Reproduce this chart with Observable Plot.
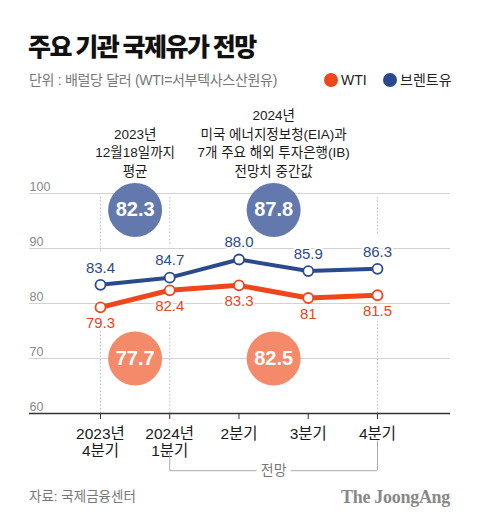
<!DOCTYPE html>
<html>
<head>
<meta charset="utf-8">
<script src="https://cdn.jsdelivr.net/npm/d3@7"></script>
<script src="https://cdn.jsdelivr.net/npm/@observablehq/plot@0.6"></script>
<style>
  html, body { margin: 0; padding: 0; background: #fff; }
  #wrap { position: relative; width: 480px; height: 525px; overflow: hidden; font-family: "Liberation Sans", "Noto Sans CJK KR", sans-serif; }
  .abs { position: absolute; white-space: nowrap; }
  #title { left: 28px; top: 31px; font-size: 25px; line-height: 28px; font-weight: 900; color: #111; letter-spacing: -1.5px; font-family: "Noto Sans CJK KR", sans-serif; }
  #subtitle { left: 29px; top: 72px; font-size: 14px; line-height: 16px; color: #777; letter-spacing: -0.3px; }
  .leg { top: 72px; font-size: 14px; line-height: 16px; color: #222; display: flex; align-items: center; }
  .leg span.dot { display: inline-block; width: 14px; height: 14px; border-radius: 50%; margin-right: 3px; }
  #chart { left: 0; top: 100px; }
  #source { left: 29px; top: 488px; font-size: 13.5px; line-height: 18px; color: #777; }
  #brand { right: 30px; top: 486px; font-size: 18px; line-height: 22px; color: #888; font-weight: 700; font-family: "Liberation Serif", "DejaVu Serif", serif; letter-spacing: -0.3px; }
</style>
</head>
<body>
<div id="wrap">
  <div id="title" class="abs">주요 기관 국제유가 전망</div>
  <div id="subtitle" class="abs">단위 : 배럴당 달러 (WTI=서부텍사스산원유)</div>
  <div id="legend"></div>
  <div id="chart" class="abs"></div>
  <div id="source" class="abs">자료: 국제금융센터</div>
  <div id="brand" class="abs">The JoongAng</div>
</div>
<script>
// ---- data ----
const xLabels = ["2023년\n4분기", "2024년\n1분기", "2분기", "3분기", "4분기"];
const wti = [79.3, 82.4, 83.3, 81, 81.5];
const brent = [83.4, 84.7, 88.0, 85.9, 86.3];
const wtiLabels = ["79.3", "82.4", "83.3", "81", "81.5"];
const brentLabels = ["83.4", "84.7", "88.0", "85.9", "86.3"];
const periodStart = [0, 1];
const periodEnd = [1, 4];
const periodNotes = ["2023년\n12월18일까지\n평균", "2024년\n미국 에너지정보청(EIA)과\n7개 주요 해외 투자은행(IB)\n전망치 중간값"];
const avgWti = [77.7, 82.5];
const avgBrent = [82.3, 87.8];
const yTicks = [60, 70, 80, 90, 100];
const seriesNames = ["WTI", "브렌트유"];
const forecastLabel = "전망";

// ---- styles ----
const RED = "#f0461b", BLUE = "#2b4a8e";
const RED_BUBBLE = "#f58a6a", BLUE_BUBBLE = "#6379ad";
const colors = [RED, BLUE];

// legend
const legend = document.getElementById("legend");
const legLefts = [324, 383];
seriesNames.forEach((n, i) => {
  const d = document.createElement("div");
  d.className = "abs leg";
  d.style.left = legLefts[i] + "px";
  d.innerHTML = `<span class="dot" style="background:${colors[i]}"></span>${n}`;
  legend.appendChild(d);
});

const idx = xLabels.map((_, i) => i);
const periods = periodStart.map((s, i) => ({s, e: periodEnd[i], mid: (s + periodEnd[i]) / 2, note: periodNotes[i], w: avgWti[i], b: avgBrent[i]}));
const guideIdx = Array.from(new Set([...periodStart, ...periodEnd]));
const fcStart = periodStart[1], fcEnd = periodEnd[1];

const chart = Plot.plot({
  width: 480,
  height: 385,
  marginTop: 93,
  marginBottom: 72,
  marginLeft: 29,
  marginRight: 30,
  x: {type: "linear", domain: [-1.025, 5.054], axis: null, label: null},
  y: {domain: [60, 100], axis: null, label: null},
  style: {fontFamily: "'Liberation Sans', 'Noto Sans CJK KR', sans-serif", background: "white", overflow: "visible"},
  marks: [
    // gridlines
    Plot.ruleY(yTicks.filter(t => t > 60), {y: d => d, stroke: "#d2d2d2", strokeWidth: 1}),
    Plot.text(yTicks, {y: d => d, text: d => String(d), frameAnchor: "left", textAnchor: "start", dy: -7, fill: "#888", fontSize: 12.5}),
    // dotted guides
    Plot.ruleX(guideIdx, {x: d => d, y1: 99.3, y2: d => brent[d] + 6, stroke: "#bdbdbd", strokeDasharray: "1.5,2"}),
    Plot.ruleX(guideIdx, {x: d => d, y1: 60, y2: 76.7, stroke: "#bdbdbd", strokeDasharray: "1.5,2"}),
    // period notes
    Plot.text(periods, {x: "mid", text: "note", frameAnchor: "top", lineAnchor: "bottom", dy: -18, fontSize: 13.5, lineHeight: 1.37, fill: "#1a1a1a"}),
    // average bubbles
    Plot.dot(periods, {x: "mid", y: () => 97, r: 27, fill: BLUE_BUBBLE}),
    Plot.text(periods, {x: "mid", y: () => 97, text: d => d.b.toFixed(1), fill: "white", fontSize: 20, fontWeight: "bold"}),
    Plot.dot(periods, {x: "mid", y: () => 70, r: 27, fill: RED_BUBBLE}),
    Plot.text(periods, {x: "mid", y: () => 70, text: d => d.w.toFixed(1), fill: "white", fontSize: 20, fontWeight: "bold"}),
    // lines
    Plot.line(idx, {x: d => d, y: d => brent[d], stroke: BLUE, strokeWidth: 4}),
    Plot.line(idx, {x: d => d, y: d => wti[d], stroke: RED, strokeWidth: 5}),
    Plot.dot(idx, {x: d => d, y: d => brent[d], r: 5, fill: "white", stroke: BLUE, strokeWidth: 1.8}),
    Plot.dot(idx, {x: d => d, y: d => wti[d], r: 5, fill: "white", stroke: RED, strokeWidth: 1.8}),
    // value labels
    Plot.text(idx, {x: d => d, y: d => brent[d], text: d => brentLabels[d], dy: -17, fill: BLUE, fontSize: 15, stroke: "white", strokeWidth: 4}),
    Plot.text(idx, {x: d => d, y: d => wti[d], text: d => wtiLabels[d], dy: 16, fill: "#e8441c", fontSize: 15, stroke: "white", strokeWidth: 4}),
    // x axis
    Plot.ruleY([60], {stroke: "#333", strokeWidth: 1.5}),
    Plot.axisX({ticks: idx, tickFormat: d => xLabels[d], tickSize: 6, tickPadding: 7, fontSize: 15.5, lineHeight: 1.1, color: "#1a1a1a", stroke: "#333", label: null}),
    // forecast bracket
    Plot.ruleX([fcStart, fcEnd], {x: d => d, y1: d => xLabels[d].includes("\n") ? 53 : 55, y2: 49.6, stroke: "#aaa"}),
    Plot.ruleY([49.6], {x1: fcStart, x2: fcEnd, stroke: "#aaa"}),
    Plot.text([forecastLabel], {x: (fcStart + fcEnd) / 2, y: () => 49.6, text: d => d, fill: "#777", fontSize: 14, stroke: "white", strokeWidth: 10})
  ]
});
document.getElementById("chart").appendChild(chart);
</script>
</body>
</html>
